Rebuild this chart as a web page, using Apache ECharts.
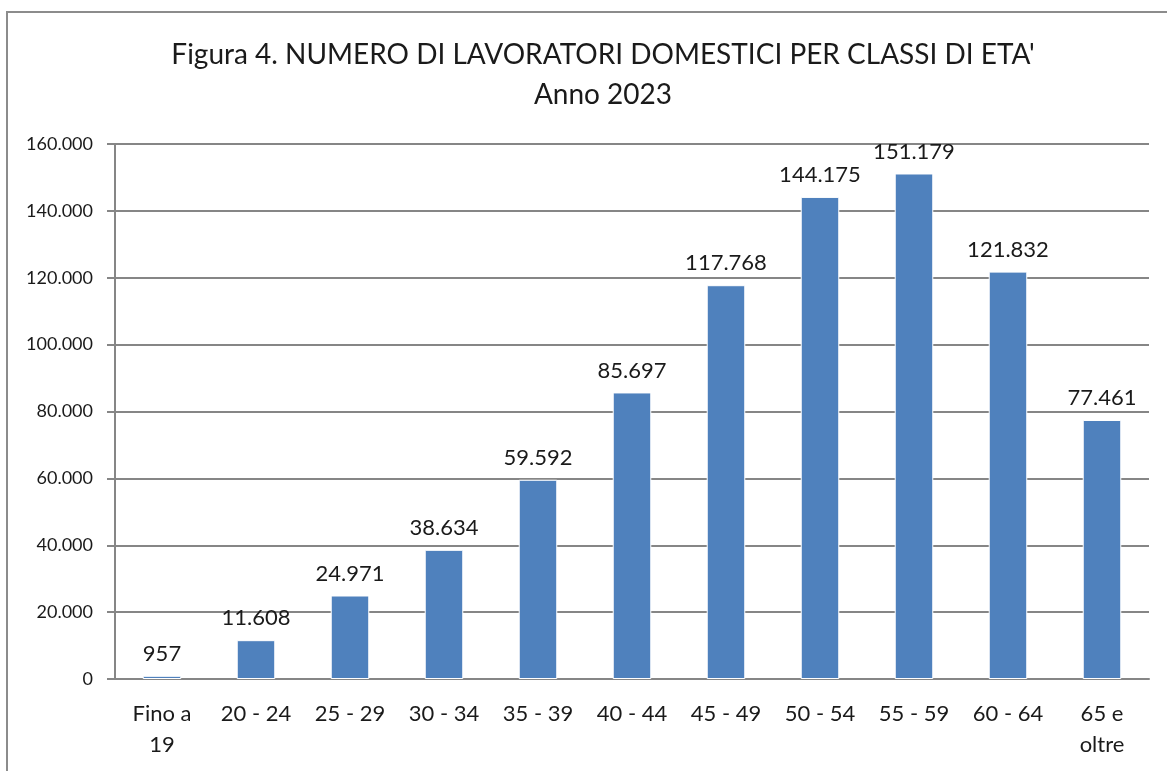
<!DOCTYPE html>
<html>
<head>
<meta charset="utf-8">
<script src="https://cdn.jsdelivr.net/npm/echarts@6/dist/echarts.min.js"></script>
<style>
html, body { margin: 0; padding: 0; background: #fff; }
#chart { width: 1167px; height: 771px; }
</style>
</head>
<body>
<div id="chart"></div>
<script>
// age classes and number of domestic workers, year 2023
var classi = ['Fino a\n19', '20 - 24', '25 - 29', '30 - 34', '35 - 39', '40 - 44', '45 - 49', '50 - 54', '55 - 59', '60 - 64', '65 e\noltre'];
var lavoratori = [957, 11608, 24971, 38634, 59592, 85697, 117768, 144175, 151179, 121832, 77461];

// Italian thousands separator
var fmt = function(v){
    return String(v).replace(/\B(?=(\d{3})+(?!\d))/g, '.');
};

var chart = echarts.init(document.getElementById('chart'));
var font = 'Lato, "Open Sans", sans-serif';

var option = {
    animation: false,
    textStyle: { fontFamily: font },
    graphic: [
        {
            type: 'rect',
            shape: { x: 7, y: 12, width: 1200, height: 800 },
            style: { fill: 'none', stroke: '#8c8c8c', lineWidth: 2 },
            silent: true
        }
    ],
    title: {
        text: "Figura 4. NUMERO DI LAVORATORI DOMESTICI PER CLASSI DI ETA'\nAnno 2023",
        left: 598,
        textAlign: 'center',
        top: 30,
        textStyle: { fontSize: 28, fontWeight: 'normal', color: '#1a1a1a', lineHeight: 40, fontFamily: font }
    },
    grid: { left: 115, right: 18, top: 144, bottom: 92 },
    xAxis: {
        type: 'category',
        data: classi,
        axisLine: { lineStyle: { color: '#868686', width: 2 } },
        axisTick: { alignWithLabel: false, length: 8, lineStyle: { color: '#868686', width: 2 } },
        axisLabel: { color: '#1a1a1a', fontSize: 22, lineHeight: 31, margin: 19, interval: 0 }
    },
    yAxis: {
        type: 'value',
        min: 0,
        max: 160000,
        interval: 20000,
        axisLine: { show: true, lineStyle: { color: '#868686', width: 2 } },
        axisTick: { show: true, length: 8, lineStyle: { color: '#868686', width: 2 } },
        splitLine: { lineStyle: { color: '#868686', width: 2 } },
        axisLabel: { color: '#1a1a1a', fontSize: 18, margin: 22, formatter: fmt }
    },
    series: [
        {
            type: 'bar',
            data: lavoratori,
            barWidth: '41%',
            itemStyle: { color: '#4f81bd', borderColor: '#fff', borderWidth: 1 },
            label: {
                show: true,
                position: 'top',
                distance: 11,
                color: '#1a1a1a',
                fontSize: 22,
                formatter: function(p){ return fmt(p.value); }
            }
        }
    ]
};

chart.setOption(option);
</script>
</body>
</html>
